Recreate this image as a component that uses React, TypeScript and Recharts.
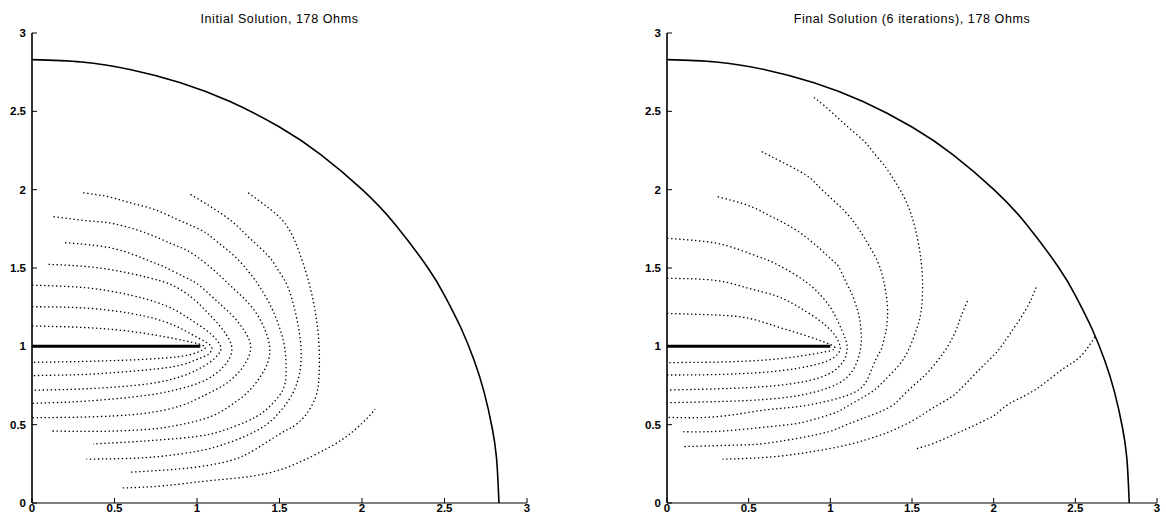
import React from 'react';
import { LineChart, Line, XAxis, YAxis } from 'recharts';

type P = [number, number];

const ticks = [0, 0.5, 1, 1.5, 2, 2.5, 3];

// outer boundary (quarter circle, r ~ 2.83)
const boundary: P[] = [
  [0, 2.83], [0.3, 2.815], [0.6, 2.766], [0.9, 2.683], [1.2, 2.563], [1.5, 2.4],
  [1.75, 2.224], [2.0, 2.002], [2.2, 1.78], [2.4, 1.5], [2.5, 1.326], [2.6, 1.117],
  [2.68, 0.909], [2.74, 0.708], [2.79, 0.474], [2.815, 0.29], [2.825, 0.12], [2.83, 0],
];

// the strip conductor
const stripInitial: P[] = [[0, 1], [1.02, 1]];
const stripFinal: P[] = [[0, 1], [1.0, 1]];

// contours, initial solution
const init1: P[] = [[0, 1.13], [0.2, 1.125], [0.4, 1.115], [0.6, 1.095], [0.8, 1.062], [0.93, 1.035], [1.01, 1.015], [1.05, 0.995], [1.03, 0.975], [0.95, 0.945], [0.8, 0.925], [0.6, 0.913], [0.4, 0.906], [0.2, 0.901], [0, 0.898]];
const init2: P[] = [[0, 1.253], [0.2, 1.25], [0.4, 1.238], [0.6, 1.21], [0.75, 1.175], [0.87, 1.13], [0.97, 1.075], [1.05, 1.03], [1.09, 0.99], [1.07, 0.95], [1.02, 0.925], [0.9, 0.88], [0.7, 0.85], [0.4, 0.825], [0.2, 0.817], [0, 0.813]];
const init3: P[] = [[0, 1.39], [0.2, 1.383], [0.4, 1.365], [0.6, 1.326], [0.75, 1.283], [0.87, 1.23], [0.97, 1.165], [1.06, 1.1], [1.12, 1.04], [1.145, 0.99], [1.13, 0.95], [1.08, 0.9], [1.0, 0.85], [0.9, 0.806], [0.7, 0.76], [0.4, 0.733], [0.2, 0.724], [0, 0.72]];
const init4: P[] = [[0.1, 1.523], [0.3, 1.512], [0.5, 1.485], [0.7, 1.44], [0.85, 1.39], [0.97, 1.31], [1.06, 1.22], [1.13, 1.14], [1.18, 1.07], [1.21, 1.0], [1.2, 0.93], [1.16, 0.87], [1.1, 0.815], [1.02, 0.77], [0.9, 0.73], [0.7, 0.688], [0.4, 0.656], [0.2, 0.643], [0, 0.636]];
const init5: P[] = [[0.2, 1.662], [0.35, 1.648], [0.53, 1.615], [0.7, 1.55], [0.8, 1.508], [0.92, 1.445], [1.0, 1.4], [1.08, 1.328], [1.15, 1.26], [1.22, 1.19], [1.28, 1.11], [1.32, 1.03], [1.32, 0.955], [1.28, 0.87], [1.22, 0.8], [1.15, 0.745], [1.05, 0.69], [0.9, 0.62], [0.7, 0.575], [0.5, 0.556], [0.25, 0.547], [0, 0.545]];
const init6: P[] = [[0.13, 1.828], [0.35, 1.8], [0.5, 1.782], [0.7, 1.72], [0.84, 1.657], [0.94, 1.612], [1.04, 1.54], [1.13, 1.46], [1.21, 1.38], [1.29, 1.3], [1.36, 1.21], [1.41, 1.11], [1.44, 1.0], [1.43, 0.9], [1.38, 0.8], [1.3, 0.7], [1.2, 0.62], [1.08, 0.55], [0.9, 0.5], [0.7, 0.47], [0.4, 0.457], [0.11, 0.46]];
const init7: P[] = [[0.31, 1.98], [0.46, 1.955], [0.6, 1.915], [0.74, 1.874], [0.88, 1.81], [0.98, 1.764], [1.06, 1.72], [1.13, 1.66], [1.22, 1.583], [1.31, 1.48], [1.38, 1.38], [1.45, 1.25], [1.5, 1.12], [1.53, 1.0], [1.54, 0.87], [1.53, 0.75], [1.48, 0.66], [1.4, 0.58], [1.3, 0.52], [1.15, 0.46], [1.0, 0.425], [0.8, 0.405], [0.6, 0.39], [0.37, 0.377]];
const init8: P[] = [[0.96, 1.97], [1.1, 1.88], [1.22, 1.79], [1.32, 1.69], [1.43, 1.58], [1.49, 1.49], [1.55, 1.38], [1.6, 1.2], [1.63, 1.0], [1.62, 0.82], [1.57, 0.68], [1.5, 0.58], [1.42, 0.5], [1.3, 0.43], [1.15, 0.37], [1.0, 0.33], [0.8, 0.3], [0.6, 0.285], [0.33, 0.28]];
const init9: P[] = [[1.31, 1.98], [1.45, 1.87], [1.55, 1.76], [1.62, 1.6], [1.68, 1.4], [1.72, 1.2], [1.74, 1.0], [1.74, 0.82], [1.72, 0.68], [1.65, 0.55], [1.57, 0.48], [1.5, 0.44], [1.35, 0.34], [1.2, 0.27], [1.0, 0.23], [0.8, 0.21], [0.59, 0.196]];
const init10: P[] = [[0.55, 0.096], [0.8, 0.11], [1.1, 0.145], [1.43, 0.19], [1.7, 0.3], [1.9, 0.42], [2.03, 0.54], [2.08, 0.6]];

// contours, final solution
const fin1: P[] = [[0, 1.21], [0.3, 1.2], [0.5, 1.179], [0.66, 1.13], [0.8, 1.085], [0.93, 1.04], [1.0, 1.012], [1.03, 0.99], [1.0, 0.972], [0.9, 0.952], [0.7, 0.922], [0.4, 0.902], [0, 0.896]];
const fin2: P[] = [[0, 1.434], [0.3, 1.42], [0.5, 1.37], [0.66, 1.325], [0.8, 1.255], [0.93, 1.168], [1.01, 1.094], [1.05, 1.03], [1.06, 0.98], [1.03, 0.935], [0.95, 0.895], [0.8, 0.86], [0.6, 0.835], [0.3, 0.82], [0, 0.817]];
const fin3: P[] = [[0, 1.69], [0.24, 1.668], [0.4, 1.632], [0.56, 1.572], [0.66, 1.53], [0.82, 1.434], [0.93, 1.338], [1.01, 1.232], [1.07, 1.104], [1.1, 1.02], [1.1, 0.96], [1.08, 0.905], [1.03, 0.85], [0.92, 0.795], [0.7, 0.753], [0.4, 0.732], [0, 0.721]];
const fin4: P[] = [[0.31, 1.955], [0.49, 1.902], [0.6, 1.849], [0.7, 1.796], [0.82, 1.721], [0.94, 1.619], [1.01, 1.551], [1.05, 1.509], [1.09, 1.423], [1.13, 1.338], [1.16, 1.253], [1.18, 1.17], [1.19, 1.06], [1.18, 0.96], [1.15, 0.87], [1.1, 0.8], [1.0, 0.74], [0.8, 0.685], [0.54, 0.657], [0.3, 0.647], [0, 0.64]];
const fin5: P[] = [[0.58, 2.243], [0.7, 2.179], [0.85, 2.094], [0.92, 2.03], [1.0, 1.95], [1.09, 1.86], [1.15, 1.785], [1.21, 1.69], [1.29, 1.54], [1.33, 1.4], [1.35, 1.25], [1.345, 1.125], [1.33, 1.05], [1.31, 0.977], [1.28, 0.92], [1.24, 0.82], [1.17, 0.72], [1.0, 0.655], [0.8, 0.615], [0.6, 0.594], [0.4, 0.562], [0.2, 0.545], [0, 0.547]];
const fin6: P[] = [[0.9, 2.589], [0.97, 2.53], [1.05, 2.455], [1.13, 2.38], [1.21, 2.306], [1.26, 2.243], [1.32, 2.168], [1.35, 2.126], [1.45, 1.955], [1.52, 1.75], [1.56, 1.5], [1.56, 1.26], [1.53, 1.115], [1.48, 0.98], [1.42, 0.88], [1.33, 0.78], [1.24, 0.7], [1.1, 0.615], [1.02, 0.572], [0.85, 0.52], [0.7, 0.495], [0.42, 0.466], [0.25, 0.455], [0.1, 0.455]];
const fin7: P[] = [[1.84, 1.29], [1.8, 1.19], [1.77, 1.104], [1.73, 1.02], [1.69, 0.955], [1.65, 0.9], [1.59, 0.827], [1.51, 0.75], [1.43, 0.67], [1.37, 0.616], [1.25, 0.56], [1.1, 0.5], [0.99, 0.455], [0.8, 0.413], [0.6, 0.38], [0.44, 0.37], [0.1, 0.36]];
const fin8: P[] = [[2.26, 1.376], [2.2, 1.24], [2.1, 1.08], [2.02, 0.965], [1.92, 0.86], [1.79, 0.72], [1.71, 0.657], [1.59, 0.582], [1.51, 0.529], [1.39, 0.467], [1.28, 0.424], [1.1, 0.37], [0.9, 0.33], [0.7, 0.3], [0.5, 0.285], [0.34, 0.28]];
const fin9: P[] = [[2.62, 1.06], [2.53, 0.934], [2.43, 0.86], [2.31, 0.764], [2.2, 0.69], [2.09, 0.63], [2.02, 0.572], [1.97, 0.54], [1.85, 0.48], [1.75, 0.434], [1.63, 0.38], [1.52, 0.345]];

const initialContours = [init1, init2, init3, init4, init5, init6, init7, init8, init9, init10];
const finalContours = [fin1, fin2, fin3, fin4, fin5, fin6, fin7, fin8, fin9];

const FONT = '"Liberation Sans", Arial, Helvetica, sans-serif';

const rows = (pts: P[]) => pts.map(([x, y]) => ({ x, y }));

// bold tick labels, MATLAB-ish
const XTick = (props: any) => {
  const { x, y, payload } = props;
  return (
    <text x={x} y={y + 9} textAnchor="middle" fontFamily={FONT} fontSize={11.5} fontWeight={700} fill="#000">
      {payload.value}
    </text>
  );
};

const YTick = (props: any) => {
  const { x, y, payload } = props;
  return (
    <text x={x} y={y + 4} textAnchor="end" fontFamily={FONT} fontSize={11.5} fontWeight={700} fill="#000">
      {payload.value}
    </text>
  );
};

interface PanelProps {
  title: string;
  contours: P[][];
  strip: P[];
  left: number;
  marginLeft: number;
  marginRight: number;
}

const W = 583;
const H = 524;
const YW = 22;

const Panel: React.FC<PanelProps> = ({ title, contours, strip, left, marginLeft, marginRight }) => {
  const plotLeft = marginLeft + YW;
  const plotWidth = W - marginRight - plotLeft;
  return (
    <div style={{ position: 'absolute', left, top: 0, width: W, height: H }}>
      <div
        style={{
          position: 'absolute',
          top: 12,
          left: plotLeft,
          width: plotWidth,
          textAlign: 'center',
          fontFamily: FONT,
          fontSize: 12.5,
          letterSpacing: 0.6,
          lineHeight: '14px',
          color: '#000',
        }}
      >
        {title}
      </div>
      <LineChart width={W} height={H} margin={{ top: 33, right: marginRight, bottom: 0, left: marginLeft }}>
        <XAxis
          type="number"
          dataKey="x"
          domain={[0, 3]}
          ticks={ticks}
          interval={0}
          height={21}
          tickSize={-5}
          tickMargin={5}
          axisLine={{ stroke: '#000', strokeWidth: 1.2 }}
          tickLine={{ stroke: '#000' }}
          tick={<XTick />}
        />
        <YAxis
          type="number"
          dataKey="y"
          domain={[0, 3]}
          ticks={ticks}
          interval={0}
          width={YW}
          tickSize={-5}
          tickMargin={11}
          axisLine={{ stroke: '#000', strokeWidth: 1.6 }}
          tickLine={{ stroke: '#000' }}
          tick={<YTick />}
        />
        {contours.map((c, i) => (
          <Line
            key={i}
            data={rows(c)}
            dataKey="y"
            type="natural"
            stroke="#000"
            strokeWidth={1.3}
            strokeDasharray="1.4 2.6"
            dot={false}
            activeDot={false}
            isAnimationActive={false}
          />
        ))}
        <Line
          data={rows(boundary)}
          dataKey="y"
          type="natural"
          stroke="#000"
          strokeWidth={1.6}
          dot={false}
          activeDot={false}
          isAnimationActive={false}
        />
        <Line
          data={rows(strip)}
          dataKey="y"
          type="linear"
          stroke="#000"
          strokeWidth={3}
          dot={false}
          activeDot={false}
          isAnimationActive={false}
        />
      </LineChart>
    </div>
  );
};

export default function App() {
  return (
    <div style={{ position: 'absolute', left: 0, top: 0, width: 1166, height: 524, background: '#fff', overflow: 'hidden' }}>
      <Panel
        title="Initial Solution, 178 Ohms"
        contours={initialContours}
        strip={stripInitial}
        left={0}
        marginLeft={10}
        marginRight={56}
      />
      <Panel
        title="Final Solution (6 iterations), 178 Ohms"
        contours={finalContours}
        strip={stripFinal}
        left={583}
        marginLeft={62}
        marginRight={9}
      />
    </div>
  );
}
